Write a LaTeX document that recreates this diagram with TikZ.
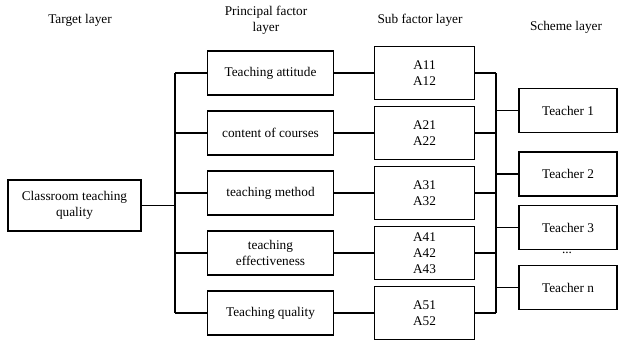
\documentclass[tikz,border=0pt]{standalone}
\usepackage{fontspec}
\setmainfont{Liberation Serif}
\usepackage{tikz}
\usetikzlibrary{positioning,calc}

\begin{document}
\begin{tikzpicture}[x=1pt, y=-1pt,
    font=\fontsize{13.3}{16}\selectfont,
    box/.style={draw, line width=1.1pt, align=center, inner sep=0pt},
    wire/.style={line width=1.1pt}]
    \useasboundingbox (0,0) rectangle (618,343);

    % layer titles
    \node (hTarget) at (80,20) {Target layer};
    \node[align=center] (hPrincipal) at (266,20) {Principal factor\\layer};
    \node (hSub) at (420,20) {Sub factor layer};
    \node (hScheme) at (566,27) {Scheme layer};

    \node[box, minimum width=133pt, minimum height=51pt] (tgt) at (74.5,205.5) {Classroom teaching\\quality};

    \coordinate (busL) at (175,0);
    \coordinate (busR) at (496,0);

    \foreach \i/\y/\txt/\sub in {1/73/{Teaching attitude}/{A11\\A12},
                                2/133/{content of courses}/{A21\\A22},
                                3/193/{teaching method}/{A31\\A32},
                                4/253/{teaching\\effectiveness}/{A41\\A42\\A43},
                                5/313/{Teaching quality}/{A51\\A52}} {
        \node[box, minimum width=126pt, minimum height=44pt] (p\i) at (270.5,\y) {\txt};
        \node[box, minimum width=100pt, minimum height=53pt] (s\i) at (424.5,\y) {\sub};
        \draw[wire] (p\i.west) -- (p\i.west -| busL);
        \draw[wire] (p\i.east) -- (s\i.west);
        \draw[wire] (s\i.east) -- (s\i.east -| busR);
    }

    \foreach \i/\y/\txt in {1/110.5/Teacher 1, 2/174/Teacher 2, 3/227.5/Teacher 3, 4/287.5/Teacher n} {
        \node[box, minimum width=98pt, minimum height=44pt] (t\i) at (568,\y) {\txt};
        \draw[wire] (t\i.west) -- (t\i.west -| busR);
    }
    \node (dots) at (567,253) {...};

    % buses
    \draw[wire] (tgt.east) -- (tgt.east -| busL);
    \draw[wire] (p1.west -| busL) -- (p5.west -| busL);
    \draw[wire] (s1.east -| busR) -- (s5.east -| busR);
\end{tikzpicture}
\end{document}
